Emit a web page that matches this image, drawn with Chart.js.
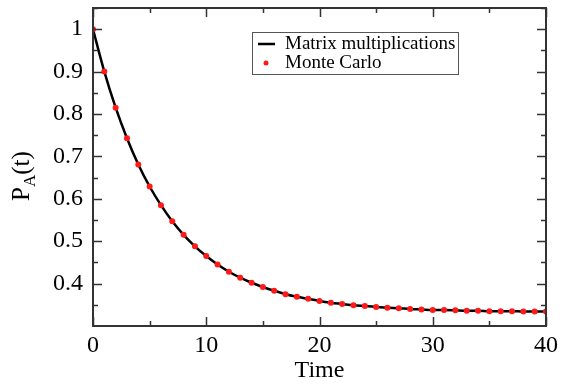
<!DOCTYPE html>
<html>
<head>
<meta charset="utf-8">
<script src="https://cdn.jsdelivr.net/npm/chart.js@4/dist/chart.umd.min.js"></script>
<style>
  html, body { margin: 0; padding: 0; background: #fff; }
  #wrap { width: 565px; height: 385px; }
</style>
</head>
<body>
<div id="wrap"><canvas id="decay-chart"></canvas></div>
<script>
// time steps and probabilities
const times = [0, 1, 2, 3, 4, 5, 6, 7, 8, 9, 10, 11, 12, 13, 14, 15, 16, 17, 18, 19, 20,
  21, 22, 23, 24, 25, 26, 27, 28, 29, 30, 31, 32, 33, 34, 35, 36, 37, 38, 39, 40];
const matrixVals = [1.000, 0.900, 0.815, 0.743, 0.681, 0.629, 0.585, 0.547, 0.515, 0.488, 0.465,
  0.445, 0.428, 0.414, 0.402, 0.392, 0.383, 0.375, 0.369, 0.364, 0.359,
  0.355, 0.352, 0.349, 0.347, 0.345, 0.343, 0.342, 0.340, 0.339, 0.338,
  0.338, 0.337, 0.336, 0.336, 0.335, 0.335, 0.335, 0.334, 0.334, 0.334];
const monteCarloVals = [1.000, 0.900, 0.815, 0.743, 0.681, 0.629, 0.585, 0.547, 0.515, 0.488, 0.465,
  0.445, 0.428, 0.414, 0.402, 0.392, 0.383, 0.375, 0.369, 0.364, 0.359,
  0.355, 0.352, 0.349, 0.347, 0.345, 0.343, 0.342, 0.340, 0.339, 0.338,
  0.338, 0.337, 0.336, 0.336, 0.335, 0.335, 0.335, 0.334, 0.334, 0.334];
const yTickVals = [0.4, 0.5, 0.6, 0.7, 0.8, 0.9, 1];
const yTickLabels = ["0.4", "0.5", "0.6", "0.7", "0.8", "0.9", "1"];
const yMinorVals = [0.35, 0.45, 0.55, 0.65, 0.75, 0.85, 0.95, 1.05];
const xTickVals = [0, 10, 20, 30, 40];
const xMinorVals = [5, 15, 25, 35];

const SERIF = "'Liberation Serif', 'DejaVu Serif', serif";
const AXIS_COLOR = "#333";

// box around the plot area plus inward tick marks on all four sides
const frameTicks = {
  id: "frameTicks",
  afterDraw(chart) {
    const { ctx, chartArea: a, scales } = chart;
    ctx.save();
    ctx.strokeStyle = AXIS_COLOR;
    ctx.lineWidth = 2;
    ctx.strokeRect(a.left, a.top, a.right - a.left, a.bottom - a.top);
    ctx.lineWidth = 1.5;
    const yt = (v, len) => {
      const py = Math.round(scales.y.getPixelForValue(v)) + 0.5;
      ctx.beginPath();
      ctx.moveTo(a.left, py); ctx.lineTo(a.left + len, py);
      ctx.moveTo(a.right, py); ctx.lineTo(a.right - len, py);
      ctx.stroke();
    };
    const xt = (v, len) => {
      const px = Math.round(scales.x.getPixelForValue(v)) + 0.5;
      ctx.beginPath();
      ctx.moveTo(px, a.bottom); ctx.lineTo(px, a.bottom - len);
      ctx.moveTo(px, a.top); ctx.lineTo(px, a.top + len);
      ctx.stroke();
    };
    yTickVals.forEach((v) => yt(v, 9));
    yMinorVals.forEach((v) => yt(v, 5));
    xTickVals.forEach((v) => xt(v, 9));
    xMinorVals.forEach((v) => xt(v, 5));

    // y axis title P_A(t), rotated
    ctx.translate(29, 176);
    ctx.rotate(-Math.PI / 2);
    ctx.fillStyle = "#000";
    ctx.textBaseline = "alphabetic";
    ctx.font = "25px " + SERIF;
    const wP = ctx.measureText("P").width;
    ctx.font = "17px " + SERIF;
    const wA = ctx.measureText("A").width;
    ctx.font = "25px " + SERIF;
    const wT = ctx.measureText("(t)").width;
    let x0 = -(wP + wA + wT) / 2;
    ctx.fillText("P", x0, 0);
    ctx.font = "17px " + SERIF;
    ctx.fillText("A", x0 + wP, 6);
    ctx.font = "25px " + SERIF;
    ctx.fillText("(t)", x0 + wP + wA, 0);
    ctx.restore();

    // legend box
    ctx.save();
    ctx.fillStyle = "#fff";
    ctx.strokeStyle = "#555";
    ctx.lineWidth = 1;
    ctx.fillRect(252, 32, 207, 42);
    ctx.strokeRect(252.5, 32.5, 206, 42);
    ctx.strokeStyle = "#000";
    ctx.lineWidth = 2.5;
    ctx.beginPath();
    ctx.moveTo(258, 44); ctx.lineTo(275, 44);
    ctx.stroke();
    ctx.fillStyle = "#ff1a1a";
    ctx.beginPath();
    ctx.arc(266, 63, 2.5, 0, Math.PI * 2);
    ctx.fill();
    ctx.fillStyle = "#000";
    ctx.font = "19px " + SERIF;
    ctx.textBaseline = "middle";
    ctx.fillText(chart.data.datasets[0].label, 285, 44);
    ctx.fillText(chart.data.datasets[1].label, 285, 63);
    ctx.restore();
  },
};

function drawChart() {
  const ctx = document.getElementById("decay-chart");
  return new Chart(ctx, {
    type: "line",
    data: {
      datasets: [
        {
          label: "Matrix multiplications",
          data: times.map((t, i) => ({ x: t, y: matrixVals[i] })),
          borderColor: "#000",
          borderWidth: 2.5,
          pointRadius: 0,
          cubicInterpolationMode: "monotone",
          order: 2,
        },
        {
          label: "Monte Carlo",
          data: times.map((t, i) => ({ x: t, y: monteCarloVals[i] })),
          showLine: false,
          pointStyle: "circle",
          pointRadius: 3,
          pointBorderWidth: 0,
          pointBackgroundColor: "#ff1a1a",
          order: 1,
        },
      ],
    },
    options: {
      responsive: true,
      maintainAspectRatio: false,
      animation: false,
      layout: { padding: { top: 8, right: 19, left: 0, bottom: 0 } },
      plugins: {
        legend: { display: false },
        tooltip: { enabled: false },
      },
      scales: {
        x: {
          type: "linear",
          min: 0,
          max: 40,
          afterBuildTicks(scale) {
            scale.ticks = xTickVals.map((v) => ({ value: v }));
          },
          afterFit(scale) {
            scale.height = 59;
            scale.paddingLeft = 0;
            scale.paddingRight = 0;
          },
          grid: { display: false, drawTicks: false },
          border: { display: false },
          ticks: {
            color: "#000",
            padding: 5,
            maxRotation: 0,
            font: { family: SERIF, size: 24 },
          },
          title: {
            display: true,
            text: "Time",
            color: "#000",
            padding: { top: 0, bottom: 0 },
            font: { family: SERIF, size: 24 },
          },
        },
        y: {
          type: "linear",
          min: 0.3,
          max: 1.05,
          afterBuildTicks(scale) {
            scale.ticks = yTickVals.map((v) => ({ value: v }));
          },
          afterFit(scale) {
            scale.width = 93;
            scale.paddingTop = 0;
            scale.paddingBottom = 0;
          },
          grid: { display: false, drawTicks: false },
          border: { display: false },
          ticks: {
            color: "#000",
            padding: 10,
            font: { family: SERIF, size: 24 },
            callback: (value) => {
              const i = yTickVals.findIndex((v) => Math.abs(v - value) < 1e-6);
              return i >= 0 ? yTickLabels[i] : "";
            },
          },
        },
      },
    },
    plugins: [frameTicks],
  });
}

drawChart();
</script>
</body>
</html>
